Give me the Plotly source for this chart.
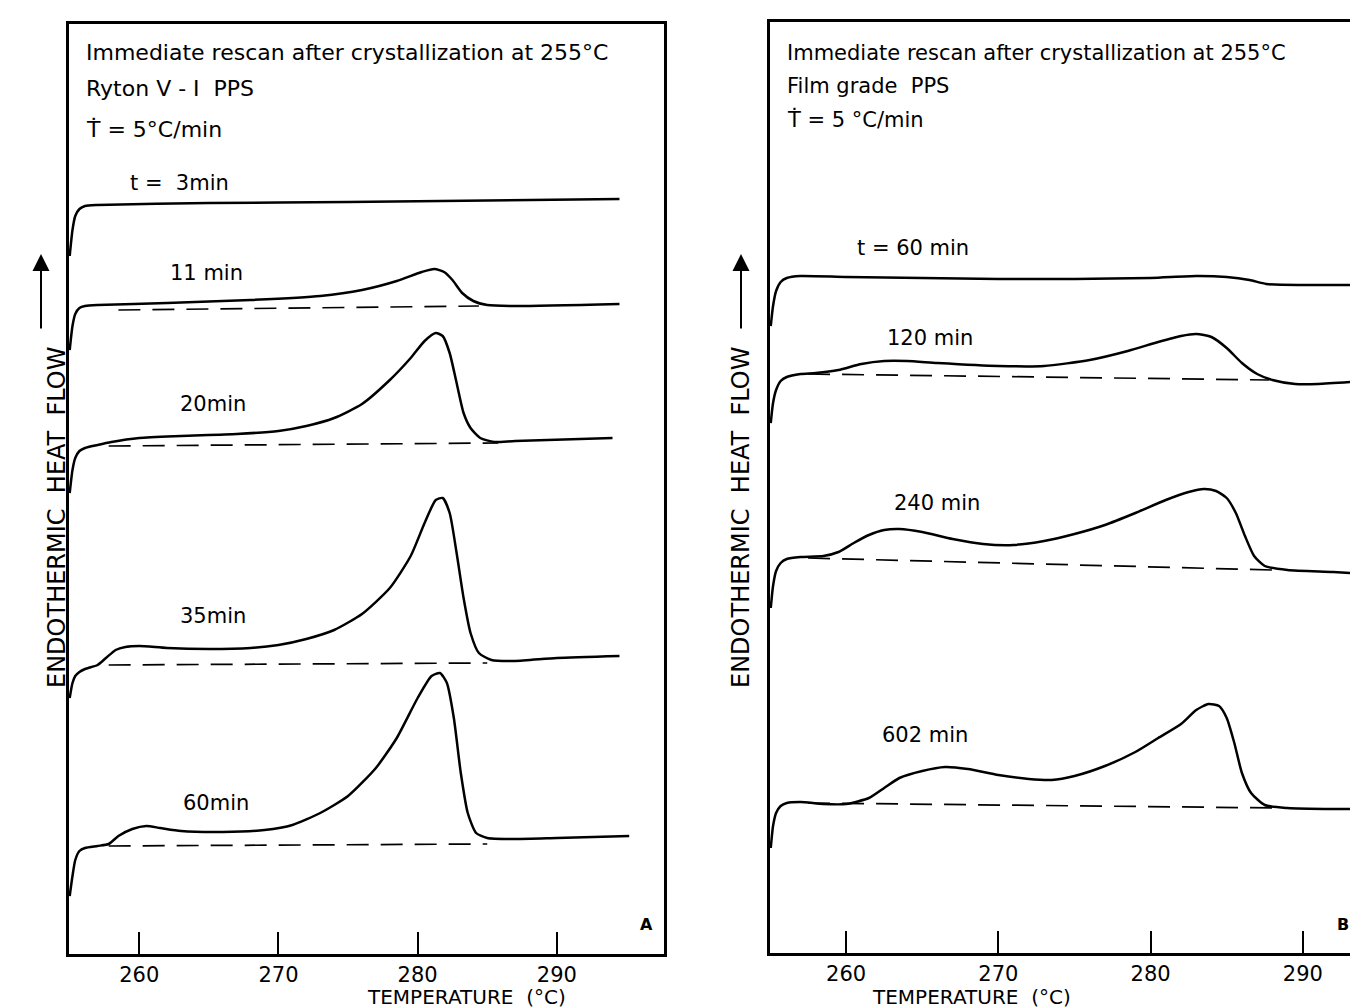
import plotly.graph_objects as go

# ---------------- data (temperature in °C, heat flow in arbitrary units) -------------
# Panel A : Ryton V-1 PPS
a_t3_T = [255.0, 255.2, 255.4, 255.7, 256.1, 257, 265, 275, 285, 294.5]
a_t3_H = [69.8, 72.4, 73.8, 74.5, 74.8, 74.9, 75.1, 75.2, 75.35, 75.5]

a_t11_T = [255.0, 255.2, 255.4, 255.7, 256.1, 257, 262, 268, 273, 276, 278.5, 280.3, 281.2,
           281.9, 282.5, 283.2, 284, 285, 287, 294.5]
a_t11_H = [60.4, 62.8, 64.0, 64.6, 64.8, 64.9, 65.1, 65.4, 65.8, 66.4, 67.3, 68.2, 68.5,
           68.2, 67.4, 66.1, 65.3, 64.9, 64.8, 65.0]

a_t20_T = [255.0, 255.2, 255.4, 255.7, 256.1, 257, 258, 260, 263, 267, 270, 272, 274, 276, 278,
           279.5, 280.5, 281.3, 281.8, 282.3, 282.8, 283.3, 283.8, 284.5, 285.5, 287, 294]
a_t20_H = [46.1, 48.4, 49.6, 50.3, 50.6, 50.9, 51.2, 51.6, 51.8, 52.0, 52.3, 52.8, 53.6, 55.0, 57.4,
           59.6, 61.3, 62.1, 61.8, 60.1, 57.1, 54.1, 52.6, 51.6, 51.2, 51.3, 51.6]

a_t35_T = [255.0, 255.2, 255.4, 255.7, 256.1, 257, 257.6, 258.3, 259, 260, 262, 265, 268, 270, 272,
           274, 276, 278, 279.5, 280.5, 281.3, 281.8, 282.3, 282.8, 283.3, 283.8, 284.4, 285.3,
           287, 290, 294.5]
a_t35_H = [25.6, 27.1, 27.8, 28.2, 28.5, 28.9, 29.6, 30.4, 30.7, 30.8, 30.6, 30.5, 30.6, 30.9, 31.5,
           32.4, 34.0, 36.6, 39.8, 43.1, 45.4, 45.6, 44.1, 40.1, 35.6, 32.1, 30.1, 29.4,
           29.3, 29.6, 29.8]

a_t60_T = [255.0, 255.2, 255.4, 255.7, 256.1, 257, 257.8, 258.5, 259.5, 260.5, 261.5, 263, 266,
           269, 271, 273, 275, 277, 278.5, 280, 281, 281.6, 282.1, 282.6, 283.1, 283.6, 284.2,
           285, 287, 290, 295.2]
a_t60_H = [5.8, 7.8, 9.4, 10.3, 10.6, 10.8, 11.0, 11.8, 12.5, 12.8, 12.6, 12.3, 12.2,
           12.4, 12.9, 14.1, 15.8, 18.6, 21.6, 25.6, 27.8, 28.1, 27.1, 23.6, 18.1, 14.1, 12.1,
           11.6, 11.5, 11.6, 11.8]

a_base_T = [[258.5, 284.4], [257.8, 285.8], [257.8, 285.0], [257.8, 285.0]]
a_base_H = [[64.4, 64.8], [50.8, 51.1], [28.9, 29.1], [10.8, 11.0]]

a_labels = ["t =  3min", "11 min", "20min", "35min", "60min"]
a_label_T = [262.9, 264.8, 265.3, 265.3, 265.5]
a_label_H = [77.1, 68.1, 55.0, 33.8, 15.1]

# Panel B : Film grade PPS
b_t60_T = [255.05, 255.2, 255.4, 255.7, 256.1, 257, 260, 265, 270, 275, 280, 283, 285, 286.5,
           287.6, 290, 294.2]
b_t60_H = [62.7, 64.7, 66.2, 67.1, 67.5, 67.7, 67.6, 67.5, 67.4, 67.4, 67.5, 67.7, 67.6, 67.3,
           66.9, 66.8, 66.8]

b_t120_T = [255.05, 255.2, 255.4, 255.7, 256.1, 257, 258, 259.5, 261, 262.5, 264, 266, 270, 273,
            276, 278.5, 280.5, 282, 283, 284, 285, 286, 287, 288, 289.5, 291, 294.2]
b_t120_H = [53.0, 55.0, 56.3, 57.2, 57.6, 57.9, 58.0, 58.3, 58.9, 59.2, 59.2, 59.0, 58.7, 58.7,
            59.3, 60.2, 61.1, 61.7, 61.9, 61.6, 60.5, 59.0, 57.9, 57.3, 56.9, 56.9, 57.2]

b_t240_T = [255.05, 255.2, 255.4, 255.7, 256.1, 257, 258.5, 259.5, 260.5, 261.5, 262.5, 263.5,
            265, 267, 269, 271, 273, 275, 277, 279, 281, 282.5, 283.5, 284.3, 285, 285.6,
            286.2, 286.8, 287.5, 289, 292, 294.2]
b_t240_H = [34.5, 36.7, 38.2, 39.0, 39.4, 39.6, 39.7, 40.1, 41.0, 41.8, 42.3, 42.4,
            42.1, 41.4, 40.9, 40.8, 41.2, 41.9, 42.8, 44.0, 45.3, 46.1, 46.4, 46.2, 45.5, 44.0,
            41.7, 39.7, 38.7, 38.3, 38.1, 37.9]

b_t602_T = [255.05, 255.2, 255.4, 255.7, 256.1, 257, 258.5, 260, 261.5, 262.5, 263.5, 265,
            266.5, 268, 270, 272, 273.5, 275, 277, 279, 280.5, 282, 283, 283.8, 284.5, 285,
            285.5, 286, 286.6, 287.5, 289, 292, 294.2]
b_t602_H = [10.5, 12.7, 14.0, 14.7, 15.0, 15.1, 14.9, 14.9, 15.5, 16.5, 17.5, 18.2,
            18.6, 18.4, 17.8, 17.4, 17.3, 17.7, 18.7, 20.1, 21.5, 22.9, 24.3, 24.9, 24.7, 23.5,
            21.0, 18.0, 16.0, 14.8, 14.5, 14.4, 14.4]

b_base_T = [[257.5, 287.8], [257.5, 288.0], [257.5, 288.5]]
b_base_H = [[57.9, 57.3], [39.5, 38.3], [15.0, 14.5]]

b_labels = ["t = 60 min", "120 min", "240 min", "602 min"]
b_label_T = [264.4, 265.5, 266.0, 265.2]
b_label_H = [70.5, 61.5, 45.0, 21.8]

a_header = ["Immediate rescan after crystallization at 255°C", "Ryton V - I  PPS", "Ṫ = 5°C/min"]
b_header = ["Immediate rescan after crystallization at 255°C", "Film grade  PPS", "Ṫ = 5 °C/min"]

tick_vals = [260, 270, 280, 290]
tick_text = ["260", "270", "280", "290"]

# ---------------- figure ----------------
FONT = "DejaVu Sans"
W, H = 1358, 1007
fig = go.Figure()

line_style = dict(color="black", width=2.5)
dash_style = dict(color="black", width=1.7, dash="22px,12px")

for T, Hf in [(a_t3_T, a_t3_H), (a_t11_T, a_t11_H), (a_t20_T, a_t20_H),
              (a_t35_T, a_t35_H), (a_t60_T, a_t60_H)]:
    fig.add_trace(go.Scatter(x=T, y=Hf, mode="lines", line=dict(shape="spline", smoothing=0.6, **line_style),
                             xaxis="x", yaxis="y", showlegend=False, hoverinfo="skip"))
for T, Hf in zip(a_base_T, a_base_H):
    fig.add_trace(go.Scatter(x=T, y=Hf, mode="lines", line=dash_style,
                             xaxis="x", yaxis="y", showlegend=False, hoverinfo="skip"))

for T, Hf in [(b_t60_T, b_t60_H), (b_t120_T, b_t120_H), (b_t240_T, b_t240_H), (b_t602_T, b_t602_H)]:
    fig.add_trace(go.Scatter(x=T, y=Hf, mode="lines", line=dict(shape="spline", smoothing=0.6, **line_style),
                             xaxis="x2", yaxis="y2", showlegend=False, hoverinfo="skip"))
for T, Hf in zip(b_base_T, b_base_H):
    fig.add_trace(go.Scatter(x=T, y=Hf, mode="lines", line=dash_style,
                             xaxis="x2", yaxis="y2", showlegend=False, hoverinfo="skip"))

def py(p):
    return (H - p) / H

def px(p):
    return p / W

ax_common = dict(showgrid=False, zeroline=False, showline=True, linecolor="black", linewidth=2.5,
                 ticks="inside", ticklen=22, tickwidth=2, tickcolor="black",
                 tickvals=tick_vals, ticktext=tick_text,
                 tickfont=dict(family=FONT, size=21, color="black"))

fig.update_layout(
    width=W, height=H, margin=dict(l=0, r=0, t=0, b=0),
    paper_bgcolor="white", plot_bgcolor="white",
    xaxis=dict(domain=[px(61), px(656)], range=[254.95, 297.7], mirror=True, anchor="y", **ax_common),
    yaxis=dict(domain=[py(946), py(16)], range=[0, 93], showgrid=False, zeroline=False,
               showline=True, linecolor="black", linewidth=2.5, mirror=True,
               showticklabels=False, ticks="", anchor="x"),
    xaxis2=dict(domain=[px(762), 1.0], range=[255.0, 294.15], mirror=True, anchor="y2", **ax_common),
    yaxis2=dict(domain=[py(945), py(14)], range=[0, 93.1], showgrid=False, zeroline=False,
                showline=True, linecolor="black", linewidth=2.5, mirror=False,
                showticklabels=False, ticks="", anchor="x2"),
)

ann = []
# curve labels
for txt, x, y in zip(a_labels, a_label_T, a_label_H):
    ann.append(dict(x=x, y=y, xref="x", yref="y", text=txt, showarrow=False,
                    font=dict(family=FONT, size=21, color="black")))
for txt, x, y in zip(b_labels, b_label_T, b_label_H):
    ann.append(dict(x=x, y=y, xref="x2", yref="y2", text=txt, showarrow=False,
                    font=dict(family=FONT, size=21, color="black")))
# headers
for i, (ya, yb) in enumerate(zip([45, 80, 122], [45, 78, 112])):
    ann.append(dict(x=px(76), y=py(ya), xref="paper", yref="paper", text=a_header[i], showarrow=False,
                    xanchor="left", yanchor="middle", font=dict(family=FONT, size=22, color="black")))
    ann.append(dict(x=px(777), y=py(yb), xref="paper", yref="paper", text=b_header[i], showarrow=False,
                    xanchor="left", yanchor="middle", font=dict(family=FONT, size=21, color="black")))
# panel letters
ann.append(dict(x=px(638), y=py(928), xref="paper", yref="paper", text="<b>A</b>", showarrow=False,
                font=dict(family=FONT, size=16, color="black")))
ann.append(dict(x=px(1343), y=py(928), xref="paper", yref="paper", text="<b>B</b>", showarrow=False,
                font=dict(family=FONT, size=16, color="black")))
# axis titles
for cx in [358, 1064]:
    ann.append(dict(x=px(cx), y=py(1002), xref="paper", yref="paper", text="TEMPERATURE  (°C)",
                    yanchor="bottom", borderpad=0, showarrow=False,
                    font=dict(family=FONT, size=20, color="black")))
for cx in [33, 733]:
    ann.append(dict(x=px(cx), y=py(510), xref="paper", yref="paper", text="ENDOTHERMIC  HEAT  FLOW",
                    showarrow=False, textangle=-90, font=dict(family=FONT, size=24, color="black")))
    ann.append(dict(x=px(cx), y=py(246), ax=0, ay=76, xref="paper", yref="paper",
                    axref="pixel", ayref="pixel", text="", showarrow=True, arrowhead=2,
                    arrowsize=1.7, arrowwidth=2, arrowcolor="black"))
fig.update_layout(annotations=ann)

fig.write_html("out.html")
